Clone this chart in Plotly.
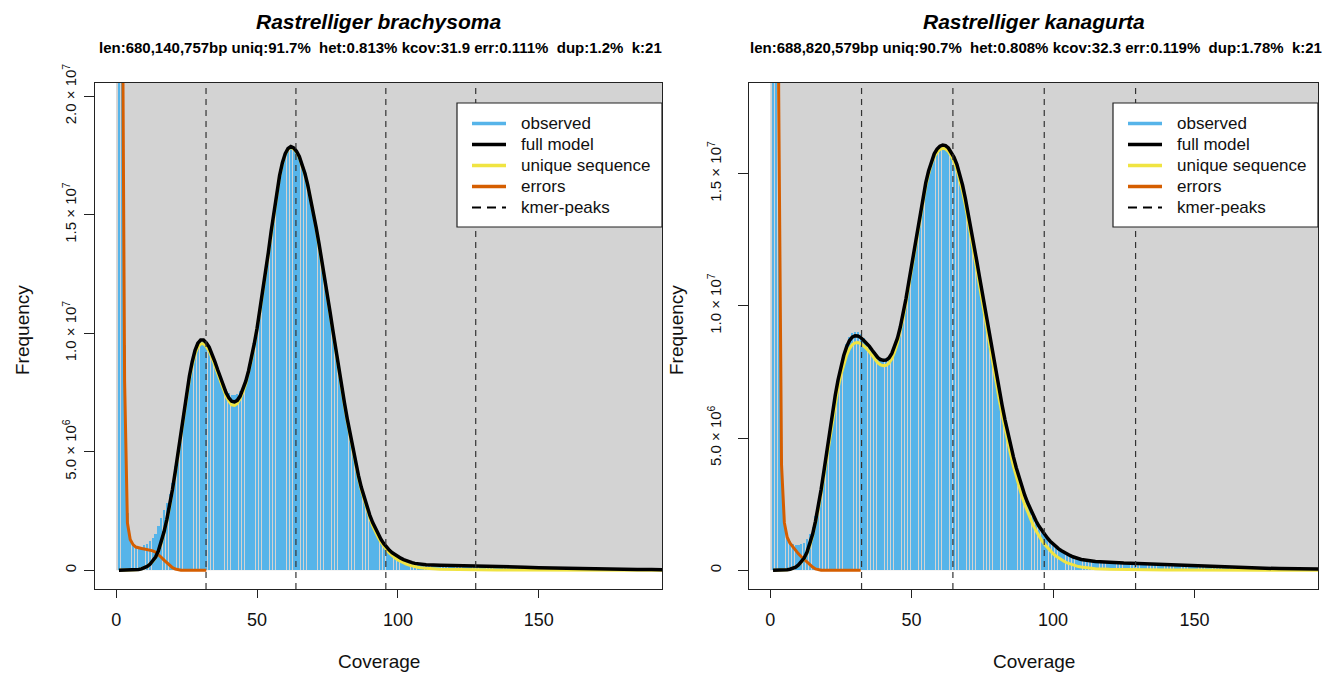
import plotly.graph_objects as go

# ---------------- data (values in millions of k-mers) ----------------
COV = list(range(1, 194))                       # coverage bins for histogram
LINE_X = list(range(1, 111)) + list(range(115, 196, 5))   # model sample points
ERR_X = list(range(1, 33))
Y_TICKS = [0, 5e6, 1e7, 1.5e7, 2e7]
Y_TICKTEXT = ["0", "5.0 × 10<sup>6</sup>", "1.0 × 10<sup>7</sup>",
              "1.5 × 10<sup>7</sup>", "2.0 × 10<sup>7</sup>"]
X_TICKS = [0, 50, 100, 150]

TITLES = ["Rastrelliger brachysoma", "Rastrelliger kanagurta"]
SUBTITLES = [
    "len:680,140,757bp uniq:91.7%  het:0.813% kcov:31.9 err:0.111%  dup:1.2%  k:21",
    "len:688,820,579bp uniq:90.7%  het:0.808% kcov:32.3 err:0.119%  dup:1.78%  k:21",
]
KCOV = [31.9, 32.3]
YMAX = [19.77e6, 17.72e6]

L_OBS = [
    200, 35, 9.5, 2.4, 1.45, 1.12, 1.03, 1.0, 1.0, 1.05,
    1.12, 1.22, 1.36, 1.55, 1.85, 2.2, 2.55, 2.85, 3.2, 3.7,
    4.4, 5.15, 5.95, 6.75, 7.5, 8.2, 8.8, 9.2, 9.5, 9.65,
    9.65, 9.55, 9.4, 9.15, 8.85, 8.5, 8.2, 7.9, 7.65, 7.48,
    7.4, 7.4, 7.45, 7.55, 7.75, 8.05, 8.45, 8.95, 9.5, 10.1,
    10.85, 11.65, 12.45, 13.3, 14.2, 15.05, 15.85, 16.55, 17.1, 17.5,
    17.75, 17.85, 17.8, 17.65, 17.4, 17.05, 16.65, 16.15, 15.6, 15.0,
    14.35, 13.65, 12.95, 12.2, 11.45, 10.7, 9.95, 9.2, 8.45, 7.75,
    7.05, 6.4, 5.75, 5.1, 4.52, 3.98, 3.5, 3.06, 2.66, 2.3,
    1.99, 1.72, 1.48, 1.28, 1.1, 0.96, 0.83, 0.73, 0.64, 0.57,
    0.5, 0.44, 0.39, 0.35, 0.32, 0.29, 0.27, 0.25, 0.24, 0.23,
    0.22, 0.22, 0.21, 0.21, 0.21, 0.2, 0.2, 0.2, 0.2, 0.2,
    0.2, 0.2, 0.2, 0.2, 0.2, 0.2, 0.2, 0.2, 0.19, 0.19,
    0.19, 0.18, 0.18, 0.17, 0.17, 0.16, 0.16, 0.15, 0.15, 0.14,
    0.14, 0.13, 0.13, 0.13, 0.12, 0.12, 0.12, 0.11, 0.11, 0.11,
    0.1, 0.1, 0.1, 0.09, 0.09, 0.09, 0.09, 0.08, 0.08, 0.08,
    0.08, 0.07, 0.07, 0.07, 0.07, 0.06, 0.06, 0.06, 0.06, 0.06,
    0.05, 0.05, 0.05, 0.05, 0.05, 0.05, 0.04, 0.04, 0.04, 0.04,
    0.04, 0.04, 0.04, 0.03, 0.03, 0.03, 0.03, 0.03, 0.03, 0.03,
    0.03, 0.03, 0.03,
]
L_FULL = [
    0, 0, 0, 0, 0.005, 0.01, 0.02, 0.035, 0.06, 0.1,
    0.16, 0.25, 0.38, 0.56, 0.82, 1.18, 1.62, 2.15, 2.75, 3.42,
    4.18, 5.0, 5.85, 6.7, 7.5, 8.2, 8.8, 9.28, 9.58, 9.72,
    9.72, 9.6, 9.42, 9.15, 8.82, 8.47, 8.12, 7.8, 7.5, 7.28,
    7.13, 7.1, 7.17, 7.35, 7.62, 7.98, 8.42, 8.95, 9.55, 10.2,
    10.95, 11.75, 12.55, 13.4, 14.3, 15.15, 15.95, 16.65, 17.2, 17.58,
    17.8, 17.88, 17.82, 17.68, 17.46, 17.14, 16.74, 16.25, 15.7, 15.1,
    14.45, 13.78, 13.08, 12.35, 11.6, 10.83, 10.05, 9.27, 8.5, 7.78,
    7.08, 6.4, 5.76, 5.12, 4.53, 3.99, 3.5, 3.07, 2.68, 2.33,
    2.02, 1.75, 1.51, 1.3, 1.12, 0.97, 0.84, 0.74, 0.65, 0.58,
    0.51, 0.45, 0.4, 0.36, 0.32, 0.29, 0.27, 0.25, 0.24, 0.23,
    0.21, 0.2, 0.2, 0.19, 0.17, 0.15, 0.13, 0.11, 0.095, 0.08,
    0.07, 0.06, 0.05, 0.04, 0.035, 0.03, 0.025,
]
L_UNIQ = [
    0, 0, 0, 0, 0.005, 0.01, 0.02, 0.035, 0.06, 0.1,
    0.16, 0.25, 0.37, 0.54, 0.79, 1.14, 1.57, 2.09, 2.68, 3.34,
    4.09, 4.9, 5.74, 6.58, 7.37, 8.06, 8.65, 9.12, 9.42, 9.56,
    9.56, 9.44, 9.26, 8.99, 8.66, 8.31, 7.96, 7.64, 7.35, 7.13,
    6.98, 6.96, 7.04, 7.23, 7.51, 7.88, 8.33, 8.87, 9.48, 10.14,
    10.9, 11.7, 12.5, 13.36, 14.26, 15.11, 15.91, 16.61, 17.16, 17.54,
    17.76, 17.84, 17.78, 17.64, 17.42, 17.1, 16.7, 16.21, 15.66, 15.05,
    14.4, 13.72, 13.02, 12.28, 11.52, 10.75, 9.96, 9.18, 8.4, 7.67,
    6.98, 6.3, 5.66, 5.02, 4.43, 3.89, 3.39, 2.96, 2.57, 2.21,
    1.88, 1.61, 1.38, 1.18, 1.0, 0.85, 0.72, 0.61, 0.52, 0.44,
    0.37, 0.31, 0.26, 0.22, 0.18, 0.15, 0.13, 0.11, 0.095, 0.08,
    0.04, 0.025, 0.015, 0.01, 0.008, 0.006, 0.005, 0.004, 0.003, 0.003,
    0.002, 0.002, 0.002, 0.001, 0.001, 0.001, 0.001,
]
L_ERR = [
    200, 30, 8, 2.0, 1.3, 1.08, 0.98, 0.94, 0.92, 0.9,
    0.88, 0.86, 0.82, 0.76, 0.67, 0.55, 0.43, 0.31, 0.2, 0.11,
    0.05, 0.02, 0.005, 0, 0, 0, 0, 0, 0, 0,
    0, 0,
]

R_OBS = [
    300, 50, 18, 4.2, 1.95, 1.35, 1.12, 1.0, 0.95, 0.95,
    0.98, 1.05, 1.18, 1.38, 1.65, 2.05, 2.55, 3.1, 3.75, 4.5,
    5.25, 5.98, 6.65, 7.25, 7.78, 8.22, 8.57, 8.82, 8.97, 9.02,
    9.0, 8.92, 8.8, 8.67, 8.53, 8.38, 8.24, 8.12, 8.04, 8.0,
    8.01, 8.08, 8.22, 8.45, 8.76, 9.16, 9.65, 10.2, 10.82, 11.47,
    12.12, 12.78, 13.42, 14.02, 14.57, 15.04, 15.43, 15.72, 15.91, 16.03,
    16.07, 16.05, 15.97, 15.83, 15.63, 15.37, 15.02, 14.6, 14.1, 13.55,
    12.97, 12.37, 11.75, 11.13, 10.5, 9.87, 9.24, 8.62, 8.01, 7.41,
    6.83, 6.27, 5.73, 5.23, 4.76, 4.32, 3.91, 3.53, 3.18, 2.87,
    2.58, 2.32, 2.09, 1.88, 1.69, 1.52, 1.37, 1.23, 1.11, 1.0,
    0.91, 0.82, 0.75, 0.68, 0.62, 0.57, 0.52, 0.48, 0.45, 0.42,
    0.4, 0.38, 0.36, 0.35, 0.34, 0.33, 0.32, 0.31, 0.3, 0.3,
    0.29, 0.29, 0.28, 0.28, 0.28, 0.27, 0.27, 0.27, 0.26, 0.26,
    0.26, 0.25, 0.25, 0.24, 0.24, 0.23, 0.23, 0.22, 0.22, 0.21,
    0.2, 0.2, 0.19, 0.19, 0.18, 0.18, 0.17, 0.16, 0.16, 0.15,
    0.15, 0.14, 0.14, 0.13, 0.13, 0.13, 0.12, 0.12, 0.11, 0.11,
    0.11, 0.1, 0.1, 0.1, 0.1, 0.09, 0.09, 0.09, 0.09, 0.08,
    0.08, 0.08, 0.08, 0.07, 0.07, 0.07, 0.07, 0.07, 0.06, 0.06,
    0.06, 0.06, 0.06, 0.06, 0.05, 0.05, 0.05, 0.05, 0.05, 0.05,
    0.05, 0.04, 0.04,
]
R_FULL = [
    0, 0, 0, 0.005, 0.01, 0.02, 0.04, 0.07, 0.12, 0.2,
    0.31, 0.46, 0.68, 0.98, 1.37, 1.85, 2.42, 3.05, 3.75, 4.5,
    5.25, 5.98, 6.62, 7.2, 7.7, 8.12, 8.45, 8.68, 8.82, 8.87,
    8.86, 8.8, 8.7, 8.6, 8.48, 8.33, 8.18, 8.05, 7.97, 7.94,
    7.95, 8.03, 8.2, 8.45, 8.78, 9.2, 9.7, 10.27, 10.9, 11.55,
    12.2, 12.85, 13.5, 14.1, 14.65, 15.1, 15.48, 15.75, 15.93, 16.04,
    16.08, 16.06, 15.97, 15.82, 15.62, 15.35, 15.0, 14.57, 14.07, 13.52,
    12.94, 12.34, 11.72, 11.1, 10.47, 9.84, 9.21, 8.59, 7.98, 7.38,
    6.8, 6.24, 5.7, 5.2, 4.73, 4.29, 3.88, 3.5, 3.15, 2.84,
    2.56, 2.3, 2.07, 1.86, 1.67, 1.5, 1.35, 1.22, 1.1, 0.99,
    0.9, 0.81, 0.74, 0.67, 0.61, 0.56, 0.51, 0.47, 0.44, 0.41,
    0.33, 0.29, 0.27, 0.26, 0.24, 0.21, 0.18, 0.15, 0.13, 0.11,
    0.1, 0.085, 0.075, 0.065, 0.055, 0.05, 0.045,
]
R_UNIQ = [
    0, 0, 0, 0.005, 0.01, 0.02, 0.04, 0.07, 0.12, 0.19,
    0.3, 0.44, 0.65, 0.93, 1.3, 1.76, 2.3, 2.9, 3.57, 4.28,
    5.0, 5.7, 6.33, 6.9, 7.39, 7.8, 8.13, 8.37, 8.53, 8.6,
    8.61, 8.57, 8.49, 8.39, 8.27, 8.12, 7.97, 7.85, 7.77, 7.74,
    7.75, 7.83, 8.0, 8.26, 8.6, 9.03, 9.54, 10.12, 10.76, 11.42,
    12.08, 12.73, 13.38, 13.98, 14.53, 14.98, 15.36, 15.63, 15.81, 15.92,
    15.96, 15.94, 15.84, 15.67, 15.45, 15.16, 14.79, 14.34, 13.82, 13.25,
    12.65, 12.03, 11.4, 10.77, 10.13, 9.49, 8.86, 8.24, 7.62, 7.02,
    6.44, 5.88, 5.35, 4.85, 4.38, 3.94, 3.53, 3.15, 2.8, 2.49,
    2.2, 1.94, 1.7, 1.49, 1.3, 1.13, 0.98, 0.85, 0.73, 0.63,
    0.54, 0.46, 0.39, 0.33, 0.28, 0.24, 0.2, 0.17, 0.14, 0.12,
    0.06, 0.035, 0.022, 0.015, 0.01, 0.008, 0.006, 0.005, 0.004, 0.003,
    0.003, 0.002, 0.002, 0.002, 0.001, 0.001, 0.001,
]
R_ERR = [
    300, 50, 18, 4.0, 1.8, 1.25, 1.02, 0.88, 0.74, 0.62,
    0.51, 0.41, 0.32, 0.22, 0.12, 0.05, 0.01, 0, 0, 0,
    0, 0, 0, 0, 0, 0, 0, 0, 0, 0,
    0, 0,
]

LEGEND_LABELS = ["observed", "full model", "unique sequence", "errors", "kmer-peaks"]

# ---------------- style ----------------
W, H = 1329, 673
FONT = "Liberation Sans, Arial, Helvetica, sans-serif"
C_HIST = "#56B4E9"
C_FULL = "black"
C_UNIQ = "#F0E442"
C_ERR = "#D55E00"
C_BG = "#D3D3D3"
LEG_COLORS = [C_HIST, C_FULL, C_UNIQ, C_ERR, "black"]

BOX_TOP, BOX_BOT = 83, 589
PANEL_X = [(95, 662), (749, 1318)]
XRANGE = [-7.5, 193.7]
Y_STANDOFF = [2, 11]


def px(x):
    return x / W


def py(y):
    return 1 - y / H


def M(vals):
    return [v * 1e6 for v in vals]


fig = go.Figure()
shapes = []
annotations = []
panels = [(L_OBS, L_FULL, L_UNIQ, L_ERR), (R_OBS, R_FULL, R_UNIQ, R_ERR)]

for i, (obs, full, uniq, err) in enumerate(panels):
    xa = "x" if i == 0 else "x2"
    ya = "y" if i == 0 else "y2"
    fig.add_trace(go.Bar(x=COV, y=M(obs), xaxis=xa, yaxis=ya, width=0.78,
                         marker=dict(color=C_HIST, line=dict(width=0)),
                         showlegend=False, hoverinfo="skip"))
    fig.add_trace(go.Scatter(x=ERR_X, y=M(err), xaxis=xa, yaxis=ya, mode="lines",
                             line=dict(color=C_ERR, width=3), showlegend=False))
    fig.add_trace(go.Scatter(x=LINE_X, y=M(uniq), xaxis=xa, yaxis=ya, mode="lines",
                             line=dict(color=C_UNIQ, width=3), showlegend=False))
    fig.add_trace(go.Scatter(x=LINE_X, y=M(full), xaxis=xa, yaxis=ya, mode="lines",
                             line=dict(color=C_FULL, width=3.5), showlegend=False))

    ymax = YMAX[i]
    yr = [-0.04 * ymax, 1.04 * ymax]
    x0p, x1p = PANEL_X[i]
    ax_common = dict(showgrid=False, zeroline=False, showline=True, mirror=True,
                     linecolor="#222222", linewidth=1.4, ticks="outside",
                     tickcolor="#222222", tickwidth=1.2, automargin=False)
    fig.update_layout(**{
        ("xaxis" if i == 0 else "xaxis2"): dict(
            domain=[px(x0p), px(x1p)], range=XRANGE, anchor=ya,
            tickvals=X_TICKS, ticklen=8, ticklabelstandoff=6,
            tickfont=dict(size=18, color="#111"), **ax_common),
        ("yaxis" if i == 0 else "yaxis2"): dict(
            domain=[py(BOX_BOT), py(BOX_TOP)], range=yr, anchor=xa,
            tickvals=Y_TICKS, ticktext=Y_TICKTEXT, tickangle=-90,
            ticklen=10, ticklabelstandoff=Y_STANDOFF[i],
            tickfont=dict(size=15, color="#111"), **ax_common),
    })

    # gray background region
    shapes.append(dict(type="rect", xref=xa, yref=ya, x0=0, x1=XRANGE[1],
                       y0=0, y1=yr[1], fillcolor=C_BG, line=dict(width=0),
                       layer="below"))
    # k-mer peak lines
    for k in range(1, 5):
        shapes.append(dict(type="line", xref=xa, yref=ya + " domain",
                           x0=k * KCOV[i], x1=k * KCOV[i], y0=0, y1=1,
                           line=dict(color="#333333", width=1.2, dash="6px,5px"),
                           layer="above"))

    cx = (x0p + x1p) / 2
    annotations.append(dict(text="<b><i>%s</i></b>" % TITLES[i], x=px(cx), y=py(22),
                            xref="paper", yref="paper", showarrow=False,
                            font=dict(size=21, color="black"), xanchor="center",
                            yanchor="middle"))
    annotations.append(dict(text="<b>%s</b>" % SUBTITLES[i], x=px(cx + 2), y=py(48),
                            xref="paper", yref="paper", showarrow=False,
                            font=dict(size=15, color="black"), xanchor="center",
                            yanchor="middle"))
    annotations.append(dict(text="Coverage", x=px(cx), y=py(661), xref="paper",
                            yref="paper", showarrow=False,
                            font=dict(size=19, color="#111"), xanchor="center",
                            yanchor="middle"))
    annotations.append(dict(text="Frequency", x=px(x0p - 73), y=py(330),
                            xref="paper", yref="paper", showarrow=False,
                            textangle=-90, font=dict(size=19, color="#111"),
                            xanchor="center", yanchor="middle"))

    # legend box (drawn manually to mimic R legend)
    lx0, lx1 = x1p - 205, x1p
    shapes.append(dict(type="rect", xref="paper", yref="paper",
                       x0=px(lx0), x1=px(lx1), y0=py(227), y1=py(103),
                       fillcolor="white", line=dict(color="#222222", width=1.2),
                       layer="above"))
    for j, lab in enumerate(LEGEND_LABELS):
        yy = 123.5 + 21 * j
        line = dict(color=LEG_COLORS[j], width=3.5)
        if j == 4:
            line = dict(color="black", width=2, dash="9px,6px")
        shapes.append(dict(type="line", xref="paper", yref="paper",
                           x0=px(lx0 + 15), x1=px(lx0 + 49), y0=py(yy), y1=py(yy),
                           line=line, layer="above"))
        annotations.append(dict(text=lab, x=px(lx0 + 62), y=py(yy), xref="paper",
                                yref="paper", showarrow=False, xanchor="left",
                                yanchor="middle", font=dict(size=17, color="#111")))

fig.update_layout(template="none", width=W, height=H,
                  margin=dict(l=0, r=0, t=0, b=0, pad=0),
                  paper_bgcolor="white", plot_bgcolor="white",
                  font=dict(family=FONT), bargap=0, showlegend=False,
                  hovermode=False,
                  shapes=shapes, annotations=annotations)

fig.write_html("out.html", config={"displayModeBar": False},
               post_script="document.body.style.margin='0px';"
                           "document.body.style.overflow='hidden';")
